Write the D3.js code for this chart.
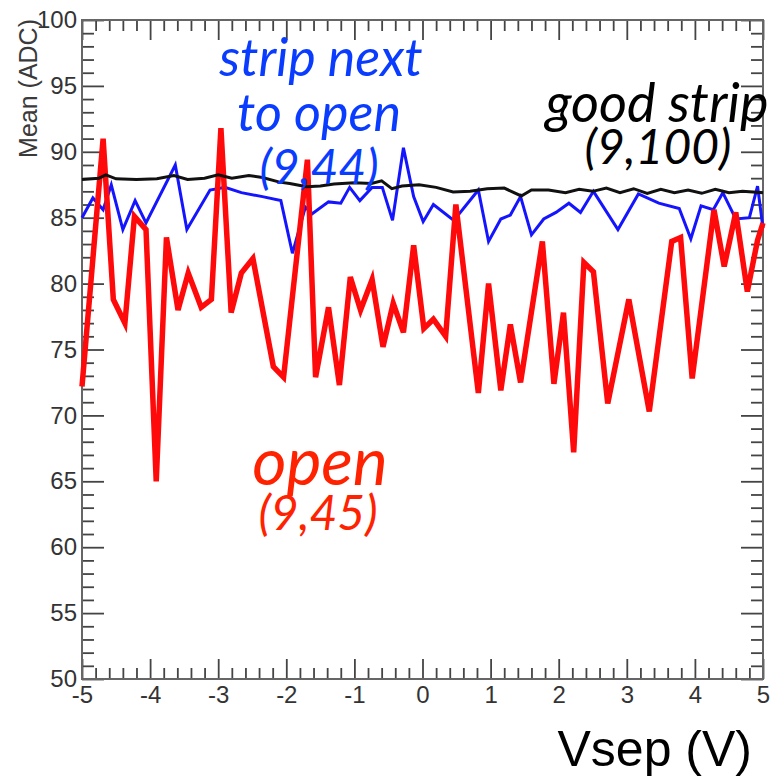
<!DOCTYPE html>
<html>
<head>
<meta charset="utf-8">
<script src="https://cdn.jsdelivr.net/npm/d3@7"></script>
<style>
  html, body { margin: 0; padding: 0; background: #fff; }
  svg { display: block; }
</style>
</head>
<body>
<svg id="chart" width="774" height="778"></svg>
<script>
// Mean ADC vs separation voltage for three strips

// good strip (9,100)
const goodV = [-5.0,-4.75,-4.65,-4.5,-4.2,-3.9,-3.65,-3.45,-3.2,-3.0,-2.8,-2.55,-2.35,-2.1,-1.95,-1.7,-1.5,-1.3,-1.0,-0.75,-0.6,-0.45,-0.3,-0.05,0.2,0.45,0.7,0.95,1.2,1.45,1.6,1.85,2.1,2.3,2.5,2.7,2.9,3.1,3.3,3.5,3.7,3.9,4.1,4.3,4.5,4.7,5.0];
const goodMean = [87.9,88.0,88.25,87.95,87.9,87.95,88.2,87.9,88.0,88.25,88.0,88.2,88.05,87.7,87.6,87.35,87.4,87.55,87.65,87.6,87.8,87.2,87.4,87.5,87.3,86.95,87.0,87.2,87.25,86.65,87.1,87.1,86.9,87.15,87.0,87.25,86.9,87.2,86.85,87.15,86.9,87.1,86.85,87.15,86.9,87.0,86.9];

// strip next to open (9,44)
const nextV = [-5.0,-4.84,-4.69,-4.57,-4.4,-4.22,-4.06,-3.63,-3.46,-3.12,-2.9,-2.66,-2.35,-2.08,-1.91,-1.72,-1.62,-1.38,-1.2,-1.07,-0.92,-0.74,-0.59,-0.44,-0.28,-0.13,0.01,0.16,0.46,0.82,0.97,1.15,1.29,1.44,1.6,1.78,1.96,2.15,2.32,2.51,2.87,3.17,3.47,3.77,3.94,4.09,4.27,4.41,4.6,4.8,4.92,5.0];
const nextMean = [85.0,86.5,85.6,87.5,84.1,86.3,84.6,89.0,84.1,87.1,87.3,86.9,86.6,86.3,82.3,85.8,85.3,86.2,86.1,87.3,86.3,87.3,87.3,84.8,90.3,86.6,84.7,86.0,84.8,87.1,83.2,84.9,85.2,86.6,83.7,84.9,85.4,86.1,85.4,87.0,84.1,86.8,86.1,85.7,83.4,85.9,85.6,86.9,84.9,85.0,87.4,84.2];

// open strip (9,45)
const openV = [-5.0,-4.69,-4.54,-4.37,-4.23,-4.06,-3.91,-3.76,-3.59,-3.44,-3.25,-3.1,-2.96,-2.81,-2.66,-2.49,-2.19,-2.04,-1.69,-1.57,-1.38,-1.22,-1.06,-0.91,-0.74,-0.58,-0.43,-0.28,-0.13,0.02,0.16,0.34,0.49,0.82,0.97,1.15,1.29,1.44,1.76,1.93,2.07,2.22,2.37,2.51,2.72,3.03,3.33,3.66,3.79,3.96,4.28,4.43,4.6,4.77,4.92,5.0];
const openMean = [72.2,91.0,78.8,77.0,85.1,84.1,65.0,83.5,78.0,80.8,78.2,78.8,91.8,77.8,80.8,81.9,73.7,72.9,89.4,72.9,78.2,72.3,80.5,78.0,80.3,75.2,78.5,76.3,82.9,76.6,77.3,76.0,86.0,71.7,80.0,71.9,76.9,72.5,83.2,72.4,77.8,67.2,81.6,80.9,70.9,78.8,70.3,83.2,83.5,72.8,85.6,81.3,85.4,79.4,83.3,84.6];

const yMajorTicks = [50,55,60,65,70,75,80,85,90,95,100];
const xMajorTicks = [-5,-4,-3,-2,-1,0,1,2,3,4,5];

const svg = d3.select("#chart");
const plotLeft = 82, plotRight = 763, plotTop = 20, plotBottom = 679;

const x = d3.scaleLinear().domain([-5, 5]).range([plotLeft, plotRight]);
const y = d3.scaleLinear().domain([50, 100]).range([plotBottom, plotTop]);

const axisColor = "#444";
const labelFont = "'Liberation Sans', Arial, sans-serif";
const plainNumber = d => String(d);   // keeps an ASCII hyphen for negatives

const yMinor = d3.range(50, 100.01, 1).filter(v => v % 5 !== 0);
const xMinor = d3.range(-5, 5.001, 0.2).map(v => Math.round(v * 10) / 10)
  .filter(v => Math.abs(v - Math.round(v)) > 1e-6);

function styleAxis(g) {
  g.select(".domain").remove();
  g.selectAll(".tick line").attr("stroke", axisColor).attr("stroke-width", 1.8);
  g.selectAll(".tick text")
    .attr("fill", "#333")
    .style("font-family", labelFont)
    .style("font-size", "24px");
}

// left axis: majors with labels, minors
svg.append("g").attr("transform", `translate(${plotLeft},0)`)
  .call(d3.axisLeft(y).tickValues(yMajorTicks).tickSize(-22).tickPadding(5).tickFormat(plainNumber))
  .call(styleAxis);
svg.append("g").attr("transform", `translate(${plotLeft},0)`)
  .call(d3.axisLeft(y).tickValues(yMinor).tickSize(-12).tickFormat(""))
  .call(styleAxis);

// right axis
svg.append("g").attr("transform", `translate(${plotRight},0)`)
  .call(d3.axisRight(y).tickValues(yMajorTicks).tickSize(-22).tickFormat(""))
  .call(styleAxis);
svg.append("g").attr("transform", `translate(${plotRight},0)`)
  .call(d3.axisRight(y).tickValues(yMinor).tickSize(-12).tickFormat(""))
  .call(styleAxis);

// bottom axis
svg.append("g").attr("transform", `translate(0,${plotBottom})`)
  .call(d3.axisBottom(x).tickValues(xMajorTicks).tickSize(-20).tickPadding(7).tickFormat(plainNumber))
  .call(styleAxis);
svg.append("g").attr("transform", `translate(0,${plotBottom})`)
  .call(d3.axisBottom(x).tickValues(xMinor).tickSize(-11).tickFormat(""))
  .call(styleAxis);

// top axis
svg.append("g").attr("transform", `translate(0,${plotTop})`)
  .call(d3.axisTop(x).tickValues(xMajorTicks).tickSize(-20).tickFormat(""))
  .call(styleAxis);
svg.append("g").attr("transform", `translate(0,${plotTop})`)
  .call(d3.axisTop(x).tickValues(xMinor).tickSize(-11).tickFormat(""))
  .call(styleAxis);

// frame
svg.append("rect")
  .attr("x", plotLeft).attr("y", plotTop)
  .attr("width", plotRight - plotLeft).attr("height", plotBottom - plotTop)
  .attr("fill", "none").attr("stroke", "#666").attr("stroke-width", 2);

// series
const line = d3.line().x(d => x(d[0])).y(d => y(d[1]));
const zip = (a, b) => a.map((v, i) => [v, b[i]]);

svg.append("path").datum(zip(nextV, nextMean))
  .attr("d", line).attr("fill", "none")
  .attr("stroke", "#1414ff").attr("stroke-width", 3).attr("stroke-linejoin", "miter");
svg.append("path").datum(zip(openV, openMean))
  .attr("d", line).attr("fill", "none")
  .attr("stroke", "#ff0a0a").attr("stroke-width", 5.5).attr("stroke-linejoin", "miter");
svg.append("path").datum(zip(goodV, goodMean))
  .attr("d", line).attr("fill", "none")
  .attr("stroke", "#111").attr("stroke-width", 3);

// axis titles
svg.append("text")
  .attr("transform", `translate(37,19) rotate(-90)`)
  .attr("text-anchor", "end")
  .attr("fill", "#3a3a3a")
  .style("font-family", labelFont).style("font-size", "25px")
  .text("Mean (ADC)");

svg.append("text")
  .attr("x", 752).attr("y", 766)
  .attr("text-anchor", "end")
  .attr("fill", "#000")
  .style("font-family", labelFont).style("font-size", "50px")
  .text("Vsep (V)");

// strip annotations
const annFont = "Lato, 'Open Sans', sans-serif";
function note(txt, cx, base, size, color) {
  svg.append("text")
    .attr("x", cx).attr("y", base)
    .attr("text-anchor", "middle")
    .attr("fill", color)
    .style("font-family", annFont).style("font-style", "italic")
    .style("font-size", size + "px")
    .text(txt);
}
note("strip next", 321, 76, 52, "#0a3cff");
note("to open", 319, 131, 52, "#0a3cff");
note("(9,44)", 319, 184, 48, "#0a3cff");
note("good strip", 657, 122, 54, "#000");
note("(9,100)", 658, 164, 48, "#000");
note("open", 320, 485, 66, "#ff2200");
note("(9,45)", 318, 530, 48, "#ff2200");
</script>
</body>
</html>
